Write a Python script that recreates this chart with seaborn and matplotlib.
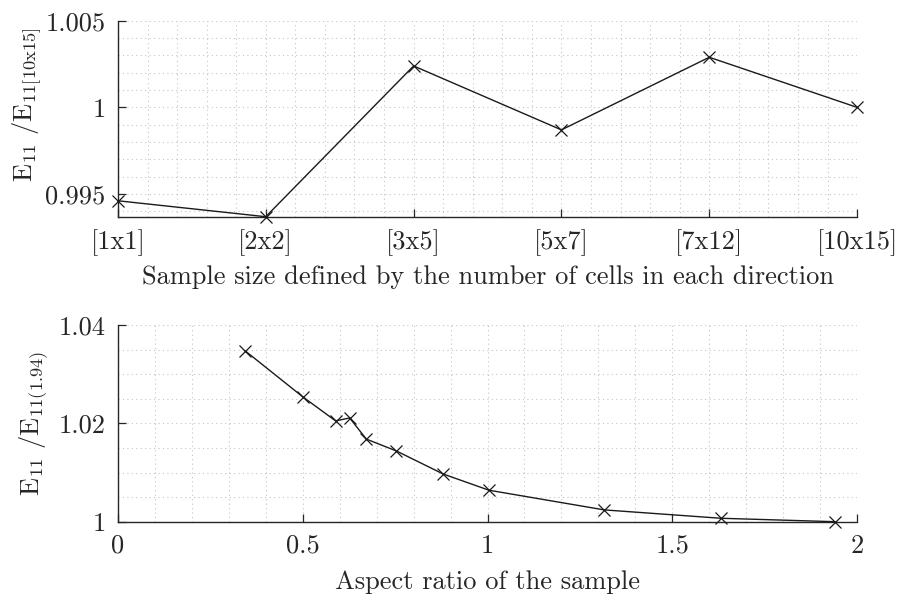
import numpy as np
import pandas as pd
import matplotlib
matplotlib.use("Agg")
import matplotlib.pyplot as plt
import seaborn as sns
from matplotlib.ticker import MultipleLocator, FuncFormatter, FixedLocator

# Sample-size study: modulus normalised by the [10x15] sample
sample_sizes = ["[1x1]", "[2x2]", "[3x5]", "[5x7]", "[7x12]", "[10x15]"]
ratio_by_size = [0.99461, 0.99369, 1.00239, 0.99870, 1.00289, 1.0]

# Aspect-ratio study: modulus normalised by the 1.94 sample
aspect_ratio = [0.345, 0.50, 0.589, 0.627, 0.672, 0.753, 0.880, 1.004, 1.316, 1.631, 1.94]
ratio_by_aspect = [1.0347, 1.0254, 1.0205, 1.0211, 1.0168, 1.0144, 1.0097, 1.0064, 1.0024, 1.0007, 1.0]

x_ticks_aspect = [0, 0.5, 1, 1.5, 2]
y_ticks_size = [0.995, 1.0, 1.005]
y_ticks_aspect = [1.0, 1.02, 1.04]

FS = 19
INK = "#262626"

sns.set_theme(style="white")
plt.rcParams.update({
    "font.family": ["serif"],
    "font.serif": ["cmr10"],
    "mathtext.fontset": "cm",
    "axes.formatter.use_mathtext": True,
    "axes.unicode_minus": False,
    "font.size": FS,
    "axes.labelsize": FS,
    "xtick.labelsize": FS,
    "ytick.labelsize": FS,
    "axes.edgecolor": INK,
    "axes.linewidth": 1.0,
})

fig = plt.figure(figsize=(8.97, 6.0), dpi=100)
ax1 = fig.add_axes([0.1315, 0.6388, 0.824, 0.3267])
ax2 = fig.add_axes([0.1315, 0.1305, 0.824, 0.3278])

fmt = FuncFormatter(lambda v, p: f"{v:g}")

line_kw = dict(color="k", marker="x", markersize=9, markeredgecolor="k",
               markeredgewidth=0.9, linewidth=1.0, clip_on=False, zorder=5)

# --- top panel -----------------------------------------------------------
df_size = pd.DataFrame({"pos": np.arange(1, len(sample_sizes) + 1),
                        "ratio": ratio_by_size})
sns.lineplot(data=df_size, x="pos", y="ratio", ax=ax1, **line_kw)
ax1.set_xlim(1, len(sample_sizes))
ax1.set_ylim(min(ratio_by_size), 1.005)
ax1.xaxis.set_major_locator(FixedLocator(df_size["pos"].tolist()))
ax1.set_xticklabels(sample_sizes)
ax1.xaxis.set_minor_locator(MultipleLocator(0.2))
ax1.yaxis.set_major_locator(FixedLocator(y_ticks_size))
ax1.yaxis.set_minor_locator(MultipleLocator(0.001))
ax1.yaxis.set_major_formatter(fmt)
ax1.set_xlabel("Sample size defined by the number of cells in each direction",
               fontsize=FS, labelpad=7)
ax1.set_ylabel(r"$\mathrm{E_{11}\ /E_{11[10x15]}}$", fontsize=FS)
ax1.yaxis.set_label_coords(-0.100, 0.57)

# --- bottom panel --------------------------------------------------------
df_aspect = pd.DataFrame({"aspect": aspect_ratio, "ratio": ratio_by_aspect})
sns.lineplot(data=df_aspect, x="aspect", y="ratio", ax=ax2, **line_kw)
ax2.set_xlim(0, 2)
ax2.set_ylim(1.0, 1.04)
ax2.xaxis.set_major_locator(FixedLocator(x_ticks_aspect))
ax2.xaxis.set_minor_locator(MultipleLocator(0.1))
ax2.yaxis.set_major_locator(FixedLocator(y_ticks_aspect))
ax2.yaxis.set_minor_locator(MultipleLocator(0.005))
ax2.xaxis.set_major_formatter(fmt)
ax2.yaxis.set_major_formatter(fmt)
ax2.set_xlabel("Aspect ratio of the sample", fontsize=FS, labelpad=9)
ax2.set_ylabel(r"$\mathrm{E_{11}\ /E_{11(1.94)}}$", fontsize=FS)
ax2.yaxis.set_label_coords(-0.091, 0.5)

for ax in (ax1, ax2):
    sns.despine(ax=ax)
    ax.grid(True, which="both", linestyle=(0, (1, 3)), color="#c4c4c4", linewidth=0.8)
    ax.set_axisbelow(True)
    ax.tick_params(which="major", direction="in", length=6, width=0.9,
                   color=INK, pad=9, labelsize=FS, labelcolor=INK,
                   bottom=True, left=True)
    ax.tick_params(which="minor", length=0)
    ax.xaxis.label.set_color(INK)
    ax.yaxis.label.set_color(INK)

fig.savefig("out.png", dpi=100)
